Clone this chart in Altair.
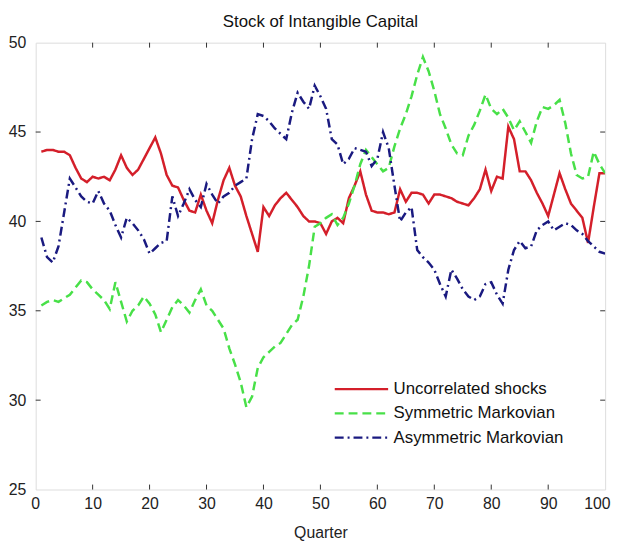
import altair as alt
import pandas as pd

quarters = list(range(1, 101))

uncorrelated = [
    43.9, 44.0, 44.0, 43.9, 43.9, 43.7, 43.0, 42.4, 42.2, 42.5,
    42.4, 42.5, 42.3, 42.9, 43.7, 43.0, 42.6, 42.9, 43.5, 44.1,
    44.7, 43.8, 42.6, 42.0, 41.9, 41.2, 40.6, 40.5, 41.5, 40.6,
    39.9, 41.2, 42.3, 43.0, 42.0, 41.4, 40.3, 39.3, 38.3, 40.8,
    40.3, 40.9, 41.3, 41.6, 41.2, 40.8, 40.3, 40.0, 40.0, 39.9,
    39.3, 40.0, 40.2, 39.9, 41.3, 42.0, 42.8, 41.5, 40.6, 40.5,
    40.5, 40.4, 40.5, 41.8, 41.1, 41.6, 41.6, 41.5, 41.0, 41.5,
    41.5, 41.4, 41.3, 41.1, 41.0, 40.9, 41.3, 41.8, 42.9, 41.7,
    42.5, 42.4, 45.3, 44.6, 42.8, 42.8, 42.3, 41.6, 41.0, 40.3,
    41.5, 42.7, 41.8, 41.0, 40.6, 40.2, 38.8, 40.8, 42.7, 42.7,
]

symmetric = [
    35.3, 35.5, 35.6, 35.5, 35.7, 35.9, 36.3, 36.7, 36.6, 36.2,
    35.9, 35.6, 35.1, 36.6, 35.5, 34.4, 35.0, 35.3, 35.8, 35.4,
    34.8, 33.8, 34.5, 35.2, 35.6, 35.3, 34.9, 35.6, 36.2, 35.3,
    35.0, 34.5, 34.0, 32.9, 32.0, 31.0, 29.6, 30.2, 31.8, 32.4,
    32.7, 33.0, 33.2, 33.7, 34.2, 34.5, 35.8, 37.5, 39.7, 39.9,
    40.2, 40.4, 39.8, 40.2, 41.0, 42.0, 43.2, 44.0, 43.6, 43.2,
    42.8, 43.0, 44.2, 45.2, 46.0, 47.0, 48.2, 49.2, 48.4, 47.3,
    46.0, 45.2, 44.3, 43.8, 43.7, 44.8, 45.4, 46.2, 47.1, 46.3,
    46.0, 46.3, 45.8, 45.1, 45.6, 45.0, 44.4, 45.6, 46.4, 46.3,
    46.5, 46.8, 45.5, 43.8, 42.6, 42.4, 42.5, 43.9, 43.2, 42.7,
]

asymmetric = [
    39.1, 38.0, 37.7, 38.6, 40.5, 42.4, 41.9, 41.4, 41.1, 41.0,
    41.7, 41.0, 40.6, 39.8, 39.1, 40.2, 39.9, 39.5, 39.0, 38.2,
    38.5, 38.8, 38.9, 41.4, 40.3, 41.0, 41.8, 41.2, 40.8, 42.1,
    41.5, 41.0, 41.4, 41.6, 42.0, 42.2, 42.4, 44.6, 46.0, 45.9,
    45.6, 45.2, 44.9, 44.6, 46.1, 47.2, 46.7, 46.3, 47.6, 47.0,
    46.3, 44.6, 44.3, 43.2, 43.5, 44.1, 44.0, 43.9, 43.1, 43.5,
    45.0, 44.1, 42.0, 40.0, 40.5, 40.8, 38.4, 38.0, 37.7, 37.3,
    36.5, 35.8, 37.3, 36.8, 36.2, 35.8, 35.6, 35.8, 36.5, 36.6,
    35.9, 35.4, 37.3, 38.4, 38.9, 38.5, 38.6, 39.5, 39.8, 40.0,
    39.5, 39.7, 39.9, 39.8, 39.5, 39.3, 38.9, 38.6, 38.3, 38.2,
]

series_names = ["Uncorrelated shocks", "Symmetric Markovian", "Asymmetric Markovian"]
series_colors = ["#d41f2a", "#48e048", "#1a1a80"]
series_dashes = [[1, 0], [9, 5], [9, 4, 2, 4]]

x_ticks = [0, 10, 20, 30, 40, 50, 60, 70, 80, 90, 100]
y_ticks = [25, 30, 35, 40, 45, 50]

W, H = 576, 452
FONT = "Liberation Sans"
TXT = "#222222"

rows = []
for name, vals in zip(series_names, [uncorrelated, symmetric, asymmetric]):
    for q, v in zip(quarters, vals):
        rows.append({"Quarter": q, "Value": v, "Series": name})
df = pd.DataFrame(rows)

xscale = alt.Scale(domain=[0, 100], nice=False, zero=False)
yscale = alt.Scale(domain=[25, 50], nice=False, zero=False)

legend = alt.Legend(title=None, orient="none", legendX=318, legendY=339,
                    labelFontSize=17, labelFont=FONT, labelColor="#111",
                    labelLimit=400, symbolType="M-2.7,0H2.7", symbolSize=400,
                    symbolStrokeWidth=2.4, labelOffset=21, rowPadding=4.5)

lines = alt.Chart(df).mark_line(strokeWidth=2.5, clip=True).encode(
    x=alt.X("Quarter:Q", scale=xscale,
            axis=alt.Axis(values=x_ticks, title="Quarter", grid=False, ticks=False,
                          domain=False, labelFontSize=16, labelFont=FONT,
                          labelColor=TXT, labelPadding=6, titleFontSize=16,
                          titleFont=FONT, titleFontWeight="normal", titleColor=TXT,
                          titlePadding=14, labelFlush=True, labelFlushOffset=5)),
    y=alt.Y("Value:Q", scale=yscale,
            axis=alt.Axis(values=y_ticks, title=None, grid=False, ticks=False,
                          domain=False, labelFontSize=16, labelFont=FONT,
                          labelColor=TXT, labelPadding=10, labelFlush=False)),
    color=alt.Color("Series:N", sort=series_names,
                    scale=alt.Scale(domain=series_names, range=series_colors),
                    legend=legend),
    strokeDash=alt.StrokeDash("Series:N", sort=series_names,
                              scale=alt.Scale(domain=series_names, range=series_dashes),
                              legend=legend),
    order="Quarter:Q",
)

xt = pd.DataFrame({"t": x_ticks[1:-1]})
yt = pd.DataFrame({"t": y_ticks[1:-1]})
tick_col = "#333333"
bottom_ticks = alt.Chart(xt).mark_rule(color=tick_col).encode(
    x=alt.X("t:Q", scale=xscale), y=alt.value(H), y2=alt.value(H - 5))
top_ticks = alt.Chart(xt).mark_rule(color=tick_col).encode(
    x=alt.X("t:Q", scale=xscale), y=alt.value(0), y2=alt.value(5))
left_ticks = alt.Chart(yt).mark_rule(color=tick_col).encode(
    y=alt.Y("t:Q", scale=yscale), x=alt.value(0), x2=alt.value(5))
right_ticks = alt.Chart(yt).mark_rule(color=tick_col).encode(
    y=alt.Y("t:Q", scale=yscale), x=alt.value(W), x2=alt.value(W - 5))

chart = alt.layer(lines, bottom_ticks, top_ticks, left_ticks, right_ticks).resolve_scale(
    color="shared", strokeDash="shared"
).properties(
    width=W, height=H,
    title=alt.TitleParams("Stock of Intangible Capital", fontSize=17, font=FONT,
                          fontWeight="normal", color="#111", offset=4, anchor="middle"),
    autosize=alt.AutoSizeParams(type="none"),
    padding={"left": 28, "top": 32, "right": 12, "bottom": 50},
).configure_view(stroke="#333333", strokeWidth=1).configure(background="white")

chart.save("out.html", embed_options={"renderer": "svg", "actions": False})
